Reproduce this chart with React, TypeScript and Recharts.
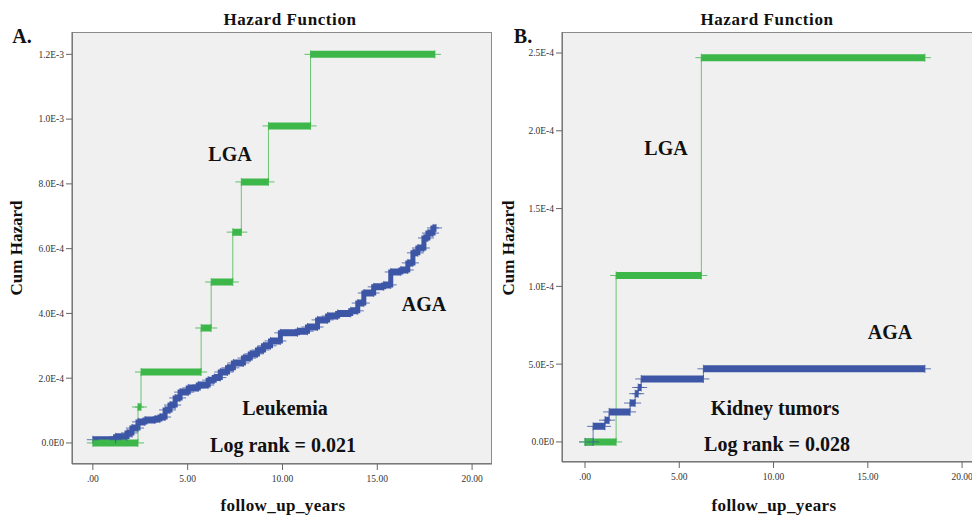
import { ComposedChart, Line, Scatter, XAxis, YAxis } from 'recharts';

// ─── Panel A: Leukemia ────────────────────────────────────────────────
const leukLgaStart = [0, 2.38, 2.54, 5.71, 6.24, 7.38, 7.83, 9.26, 11.48];
const leukLgaValue = [0, 1.11e-4, 2.19e-4, 3.55e-4, 4.97e-4, 6.51e-4, 8.06e-4, 9.79e-4, 1.2e-3];
const leukLgaEnd = 18.04;

const leukAgaStart = [
  0, 1.2, 1.8, 2.06, 2.38, 2.75, 3.28, 3.54, 3.81, 4.07, 4.34, 4.6, 5.03, 5.56, 6.08, 6.4,
  6.72, 7.1, 7.41, 7.94, 8.3, 8.68, 9.0, 9.37, 9.89, 10.79, 11.32, 11.85, 12.38, 12.91, 13.6,
  13.97, 14.29, 14.81, 15.34, 15.71, 16.24, 16.61, 16.88, 17.14, 17.46, 17.67, 17.94,
];
const leukAgaValue = [
  1.0e-5, 1.9e-5, 3.1e-5, 4.6e-5, 6.5e-5, 7.1e-5, 7.4e-5, 8.0e-5, 1.02e-4, 1.17e-4, 1.39e-4,
  1.57e-4, 1.7e-4, 1.79e-4, 1.94e-4, 2.02e-4, 2.19e-4, 2.32e-4, 2.47e-4, 2.62e-4, 2.75e-4,
  2.87e-4, 3.0e-4, 3.15e-4, 3.4e-4, 3.45e-4, 3.58e-4, 3.8e-4, 3.92e-4, 4.0e-4, 4.08e-4,
  4.32e-4, 4.63e-4, 4.82e-4, 4.88e-4, 5.28e-4, 5.34e-4, 5.56e-4, 5.87e-4, 6.02e-4, 6.33e-4,
  6.48e-4, 6.64e-4,
];
const leukAgaEnd = 18.1;

const leukYTicks = [0, 2e-4, 4e-4, 6e-4, 8e-4, 1e-3, 1.2e-3];
const leukYLabels = ['0.0E0', '2.0E-4', '4.0E-4', '6.0E-4', '8.0E-4', '1.0E-3', '1.2E-3'];

// ─── Panel B: Kidney tumors ───────────────────────────────────────────
const kidLgaStart = [0, 1.65, 6.17];
const kidLgaValue = [0, 1.07e-4, 2.47e-4];
const kidLgaEnd = 18.03;

const kidAgaStart = [0, 0.43, 1.06, 1.28, 2.39, 2.66, 2.82, 2.98, 6.28];
const kidAgaValue = [0, 1.0e-5, 1.4e-5, 1.93e-5, 2.5e-5, 3.1e-5, 3.5e-5, 4.05e-5, 4.7e-5];
const kidAgaEnd = 18.03;

const kidYTicks = [0, 5e-5, 1e-4, 1.5e-4, 2e-4, 2.5e-4];
const kidYLabels = ['0.0E0', '5.0E-5', '1.0E-4', '1.5E-4', '2.0E-4', '2.5E-4'];

const xTicks = [0, 5, 10, 15, 20];
const xLabels = ['.00', '5.00', '10.00', '15.00', '20.00'];

const GREEN = '#3db64a';
const BLUE = '#3d56a6';
const SERIF = '"Liberation Serif", "Times New Roman", serif';

type Pt = { x: number; y: number | null };

// step path: each value holds until the next start
function stepPoints(starts: number[], values: number[], end: number): Pt[] {
  const pts = starts.map((s, i) => ({ x: s, y: values[i] }));
  pts.push({ x: end, y: values[values.length - 1] });
  return pts;
}

// thick horizontal pieces, broken by nulls
function bandPoints(starts: number[], values: number[], end: number): Pt[] {
  const pts: Pt[] = [];
  starts.forEach((s, i) => {
    const e = i < starts.length - 1 ? starts[i + 1] : end;
    pts.push({ x: s, y: values[i] }, { x: e, y: values[i] }, { x: e, y: null });
  });
  return pts;
}

// censor "+" marks at both ends of every piece
function markPoints(starts: number[], values: number[], end: number): Pt[] {
  const pts: Pt[] = [];
  starts.forEach((s, i) => {
    const e = i < starts.length - 1 ? starts[i + 1] : end;
    pts.push({ x: s, y: values[i] }, { x: e, y: values[i] });
  });
  return pts;
}

function crossShape(color: string) {
  return (props: any) => {
    const { cx, cy } = props;
    if (cx == null || cy == null) return <g />;
    return (
      <g stroke={color} strokeWidth={1} opacity={0.8}>
        <line x1={cx - 6} x2={cx + 6} y1={cy} y2={cy} />
        <line x1={cx} x2={cx} y1={cy - 4} y2={cy + 4} />
      </g>
    );
  };
}

interface Series {
  starts: number[];
  values: number[];
  end: number;
  color: string;
  riser?: number;
}

interface PanelProps {
  left: number;
  width: number;
  plotBottom: number;
  xDomain: [number, number];
  yDomain: [number, number];
  yTicks: number[];
  yLabels: string[];
  series: Series[];
}

function Panel({ left, width, plotBottom, xDomain, yDomain, yTicks, yLabels, series }: PanelProps) {
  const top = 32;
  const axisW = 72;
  const axisH = 30;
  const right = width > 495 ? 8 : 0;
  return (
    <div style={{ position: 'absolute', left, top: 0, width, height: 515 }}>
      <div
        style={{
          position: 'absolute',
          left: axisW,
          top,
          width: width - axisW - right,
          height: plotBottom - top,
          background: '#f0f0f0',
          border: '1px solid #8c8c8c',
          boxSizing: 'border-box',
        }}
      />
      <ComposedChart
        width={width}
        height={515}
        margin={{ top, right, left: 0, bottom: 515 - plotBottom - axisH }}
        style={{ position: 'absolute', left: 0, top: 0 }}
      >
        <XAxis
          type="number"
          dataKey="x"
          domain={xDomain}
          ticks={xTicks}
          allowDataOverflow
          height={axisH}
          tickSize={6}
          tickMargin={5}
          tickFormatter={(v: number) => xLabels[xTicks.indexOf(v)] ?? ''}
          tick={{ fontSize: 9.5, fill: '#333', fontFamily: SERIF }}
          stroke="#666"
        />
        <YAxis
          type="number"
          dataKey="y"
          domain={yDomain}
          ticks={yTicks}
          allowDataOverflow
          width={axisW}
          tickSize={6}
          tickMargin={2}
          tickFormatter={(v: number) => yLabels[yTicks.indexOf(v)] ?? ''}
          tick={{ fontSize: 9.5, fill: '#333', fontFamily: SERIF }}
          stroke="#666"
        />
        {series.map((s, i) => (
          <Line
            key={`step-${i}`}
            data={stepPoints(s.starts, s.values, s.end)}
            dataKey="y"
            type="stepAfter"
            stroke={s.color}
            strokeOpacity={s.riser ? 1 : 0.75}
            strokeWidth={s.riser ?? 1}
            dot={false}
            activeDot={false}
            isAnimationActive={false}
          />
        ))}
        {series.map((s, i) => (
          <Scatter
            key={`mark-${i}`}
            data={markPoints(s.starts, s.values, s.end)}
            dataKey="y"
            shape={crossShape(s.color)}
            isAnimationActive={false}
          />
        ))}
        {series.map((s, i) => (
          <Line
            key={`band-${i}`}
            data={bandPoints(s.starts, s.values, s.end)}
            dataKey="y"
            type="linear"
            stroke={s.color}
            strokeWidth={7}
            strokeLinecap="butt"
            connectNulls={false}
            dot={false}
            activeDot={false}
            isAnimationActive={false}
          />
        ))}
      </ComposedChart>
    </div>
  );
}

function Txt({ x, y, size, children, spacing = 0, rotate = false }: any) {
  return (
    <div
      style={{
        position: 'absolute',
        left: x,
        top: y,
        transform: `translate(-50%, -50%)${rotate ? ' rotate(-90deg)' : ''}`,
        fontFamily: SERIF,
        fontWeight: 'bold',
        fontSize: size,
        letterSpacing: spacing,
        lineHeight: 1,
        whiteSpace: 'nowrap',
        color: '#111',
      }}
    >
      {children}
    </div>
  );
}

export default function App() {
  return (
    <div
      style={{
        position: 'absolute',
        left: 0,
        top: 0,
        width: 972,
        height: 515,
        overflow: 'hidden',
        background: '#fff',
      }}
    >
      <Panel
        left={0}
        width={500}
        plotBottom={464}
        xDomain={[-1.1, 21.05]}
        yDomain={[-0.65e-4, 12.69e-4]}
        yTicks={leukYTicks}
        yLabels={leukYLabels}
        series={[
          { starts: leukAgaStart, values: leukAgaValue, end: leukAgaEnd, color: BLUE, riser: 5 },
          { starts: leukLgaStart, values: leukLgaValue, end: leukLgaEnd, color: GREEN },
        ]}
      />
      <Panel
        left={490}
        width={490}
        plotBottom={462}
        xDomain={[-1.22, 20.95]}
        yDomain={[-1.29e-5, 2.635e-4]}
        yTicks={kidYTicks}
        yLabels={kidYLabels}
        series={[
          { starts: kidAgaStart, values: kidAgaValue, end: kidAgaEnd, color: BLUE },
          { starts: kidLgaStart, values: kidLgaValue, end: kidLgaEnd, color: GREEN },
        ]}
      />

      <Txt x={290} y={19} size={17} spacing={0.6}>Hazard Function</Txt>
      <Txt x={22} y={36} size={20}>A.</Txt>
      <Txt x={16} y={248} size={17} rotate>Cum Hazard</Txt>
      <Txt x={283} y={505} size={17} spacing={0.4}>follow_up_years</Txt>
      <Txt x={230} y={154} size={20}>LGA</Txt>
      <Txt x={424} y={304} size={20}>AGA</Txt>
      <Txt x={285} y={408} size={20}>Leukemia</Txt>
      <Txt x={283} y={445} size={20}>Log rank = 0.021</Txt>

      <Txt x={767} y={19} size={17} spacing={0.6}>Hazard Function</Txt>
      <Txt x={523} y={36} size={20}>B.</Txt>
      <Txt x={508} y={248} size={17} rotate>Cum Hazard</Txt>
      <Txt x={774} y={505} size={17} spacing={0.4}>follow_up_years</Txt>
      <Txt x={666} y={148} size={20}>LGA</Txt>
      <Txt x={890} y={332} size={20}>AGA</Txt>
      <Txt x={775} y={408} size={20}>Kidney tumors</Txt>
      <Txt x={777} y={444} size={20}>Log rank = 0.028</Txt>
    </div>
  );
}
